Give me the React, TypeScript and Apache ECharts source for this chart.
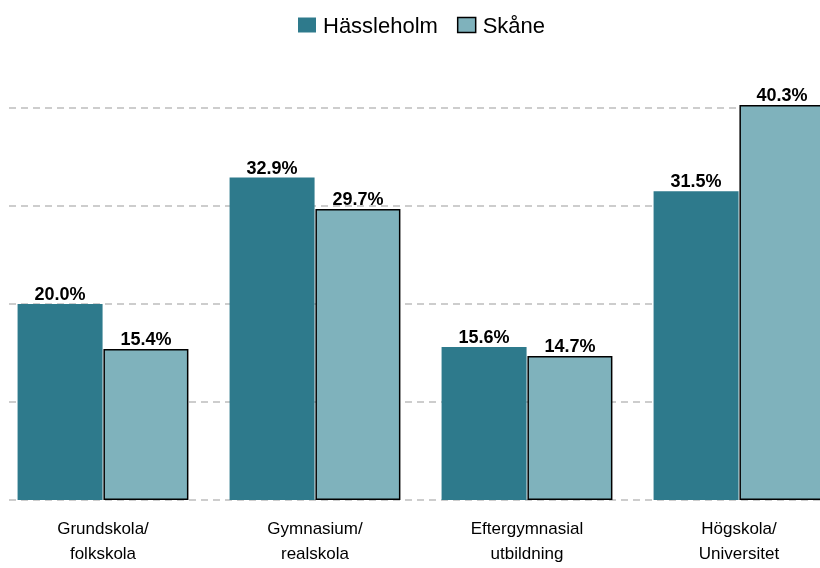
import React, { useEffect, useRef } from "react";
import * as echarts from "echarts";

const categories = ["Grundskola/\nfolkskola", "Gymnasium/\nrealskola", "Eftergymnasial\nutbildning", "Högskola/\nUniversitet"];
const hassleholm = [20.0, 32.9, 15.6, 31.5];
const skane = [15.4, 29.7, 14.7, 40.3];
const yTicks = [0, 10, 20, 30, 40];

const FONT = "'Liberation Sans', Arial, sans-serif";

export default function App() {
  const ref = useRef<HTMLDivElement>(null);
  useEffect(() => {
    const chart = echarts.init(ref.current!, undefined, { renderer: "svg" });
    const label = {
      show: true,
      position: "top" as const,
      distance: 1,
      color: "#000",
      fontWeight: "bold" as const,
      fontSize: 18,
      fontFamily: FONT,
      formatter: (p: any) => p.value.toFixed(1) + "%",
    };
    chart.setOption({
      animation: false,
      textStyle: { fontFamily: FONT },
      legend: {
        top: 9,
        left: 293,
        icon: "rect",
        itemWidth: 18,
        itemHeight: 15,
        itemGap: 19,
        textStyle: { fontSize: 22, color: "#000", fontFamily: FONT, padding: [0, 0, 0, 2] },
        data: [
          { name: "Hässleholm" },
          { name: "Skåne", itemStyle: { borderColor: "#000", borderWidth: 1.5 } },
        ],
      },
      grid: { left: -3, width: 848, top: 108, bottom: 68, containLabel: false, outerBoundsMode: "none" },
      xAxis: {
        type: "category",
        data: categories,
        axisLine: { show: false },
        axisTick: { show: false },
        axisLabel: { color: "#000", fontSize: 17, lineHeight: 25, margin: 16, fontFamily: FONT, interval: 0 },
      },
      yAxis: {
        type: "value",
        min: yTicks[0],
        max: yTicks[yTicks.length - 1],
        interval: 10,
        axisLabel: { show: false },
        axisLine: { show: false },
        axisTick: { show: false },
        splitLine: { lineStyle: { color: "#bdbdbd", width: 1.5, type: [7, 5] } },
      },
      series: [
        {
          name: "Hässleholm",
          type: "bar",
          data: hassleholm,
          barWidth: 85,
          barGap: "1%",
          clip: false,
          itemStyle: { color: "#2e7a8c" },
          label,
        },
        {
          name: "Skåne",
          type: "bar",
          data: skane,
          barWidth: 85,
          clip: false,
          itemStyle: { color: "#7fb2bc", borderColor: "#000", borderWidth: 1.5 },
          label,
        },
      ],
      graphic: [
        { type: "rect", left: 0, top: 95, shape: { width: 7, height: 415 }, style: { fill: "#fff" }, z: 100 },
      ],
    });
    return () => chart.dispose();
  }, []);
  return <div ref={ref} style={{ position: "fixed", left: 0, top: 0, width: 820, height: 568 }} />;
}
